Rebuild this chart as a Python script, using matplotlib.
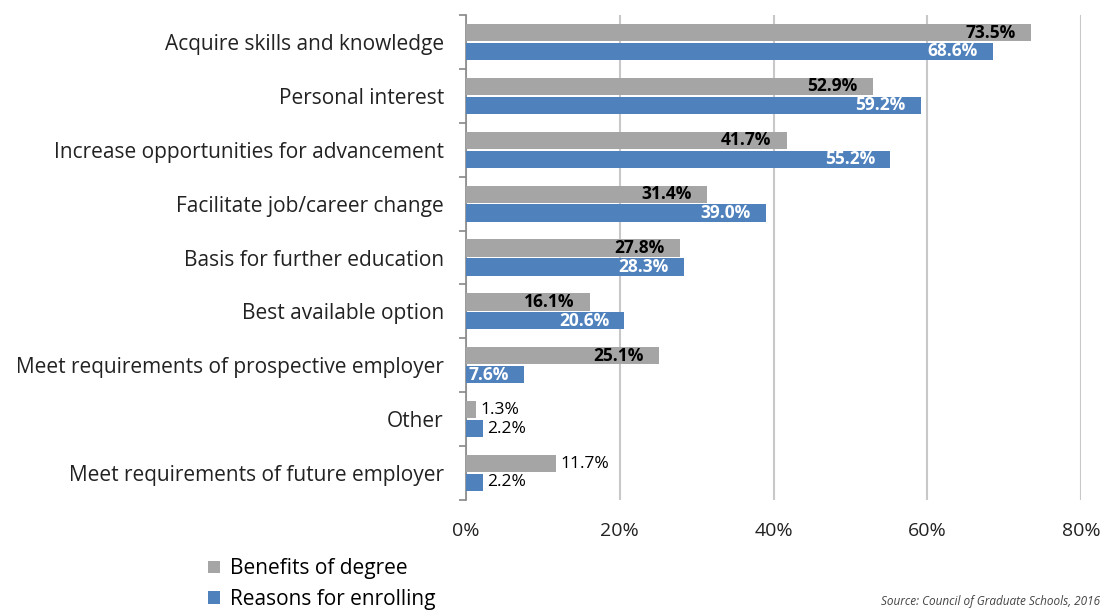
import numpy as np
import matplotlib
matplotlib.use("Agg")
from matplotlib import pyplot as plt

categories = ["Acquire skills and knowledge", "Personal interest",
              "Increase opportunities for advancement", "Facilitate job/career change",
              "Basis for further education", "Best available option",
              "Meet requirements of prospective employer", "Other",
              "Meet requirements of future employer"]
benefits = [73.5, 52.9, 41.7, 31.4, 27.8, 16.1, 25.1, 1.3, 11.7]
reasons = [68.6, 59.2, 55.2, 39.0, 28.3, 20.6, 7.6, 2.2, 2.2]
xticks = [0, 20, 40, 60, 80]

gray = "#A5A5A5"
blue = "#4F81BD"
plt.rcParams['font.family'] = ['Open Sans', 'DejaVu Sans']

fig = plt.figure(figsize=(11.05, 6.10), dpi=100)
ax = fig.add_axes([466/1105, 1-500/610, (1081-466)/1105, 485/610])

y = np.arange(len(categories))
h = 0.32
off = 0.175
ax.barh(y - off, benefits, height=h, color=gray, label="Benefits of degree", zorder=3)
ax.barh(y + off, reasons, height=h, color=blue, label="Reasons for enrolling", zorder=3)

ax.set_ylim(len(categories) - 0.5, -0.5)
ax.set_xlim(0, 80)
ax.set_xticks(xticks)
ax.set_xticklabels([f"{t}%" for t in xticks], fontsize=14, color="#222222")
ax.tick_params(axis='x', length=0, pad=16)
ax.xaxis.grid(True, color="#C8C8C8", linewidth=1.5, zorder=0)

ax.set_yticks(y)
ax.set_yticklabels(categories, fontsize=15, color="#222222")
ax.set_yticks(np.arange(len(categories) + 1) - 0.5, minor=True)
ax.tick_params(axis='y', which='major', length=0, pad=16)
ax.tick_params(axis='y', which='minor', length=5, color="#888888", width=1.2)

for s in ["top", "right", "bottom"]:
    ax.spines[s].set_visible(False)
ax.spines["left"].set_color("#888888")
ax.spines["left"].set_linewidth(1.2)

# labels inside the bar end when the bar is long enough, else outside
for vals, dy, col, lim in [(benefits, -off, "black", 12), (reasons, off, "white", 5)]:
    for i, val in enumerate(vals):
        if val > lim:
            ax.annotate(f"{val:.1f}%", (val, y[i] + dy), xytext=(-11, 0), textcoords="offset points",
                        ha="right", va="center", fontsize=12.5, fontweight="bold", color=col, zorder=4)
        else:
            ax.annotate(f"{val:.1f}%", (val, y[i] + dy), xytext=(3, 0), textcoords="offset points",
                        ha="left", va="center", fontsize=12.5, color="black", zorder=4)

fig.legend(loc="upper left", bbox_to_anchor=(200/1105, 1-550/610), frameon=False,
           fontsize=15, handlelength=0.55, handleheight=0.55, handletextpad=0.5,
           labelspacing=0.45, borderaxespad=0)

fig.text(1100/1105, 1-608/610, "Source: Council of Graduate Schools, 2016", fontsize=8.5,
         style="italic", color="#444444", va="bottom", ha="right")

fig.savefig("out.png", dpi=100)
